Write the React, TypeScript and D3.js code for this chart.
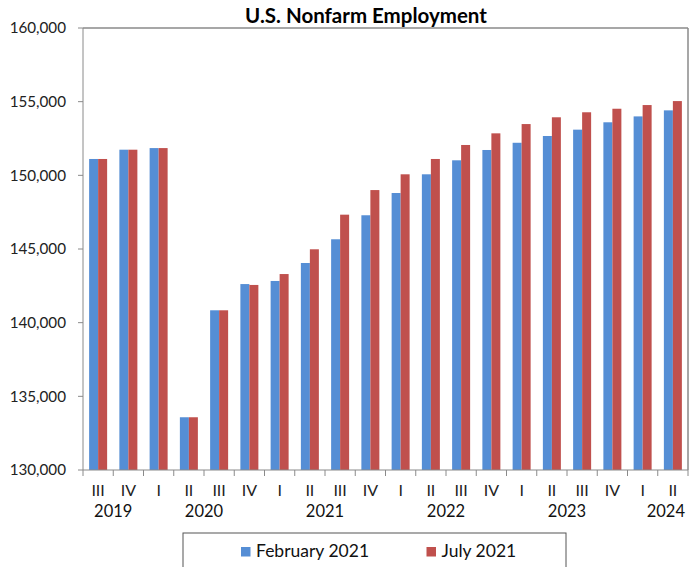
import React from "react";
import * as d3 from "d3";

// quarters along the x axis, years grouped underneath
const quarters = ["III", "IV", "I", "II", "III", "IV", "I", "II", "III", "IV", "I", "II", "III", "IV", "I", "II", "III", "IV", "I", "II"];
const yearLabels = ["2019", "2020", "2021", "2022", "2023", "2024"];
const quartersPerYear = [2, 4, 4, 4, 4, 2];

// thousands of jobs
const feb2021 = [151110, 151740, 151850, 133580, 140840, 142620, 142830, 144050, 145660, 147290, 148800, 150070, 151020, 151720, 152210, 152670, 153100, 153600, 154000, 154410];
const jul2021 = [151110, 151740, 151850, 133580, 140840, 142560, 143300, 144980, 147330, 149000, 150070, 151110, 152060, 152850, 153480, 153940, 154280, 154520, 154770, 155040];

const seriesNames = ["February 2021", "July 2021"];
const seriesColors = ["#558ED5", "#C0504D"];
const yTicks = [130000, 135000, 140000, 145000, 150000, 155000, 160000];

const App = () => {
  const width = 693;
  const height = 567;
  const margin = { top: 28, right: 5, bottom: 97, left: 83 };
  const font = "Lato, 'Open Sans', sans-serif";
  const axisColor = "#8a8a8a";

  const x = d3
    .scaleBand<number>()
    .domain(d3.range(quarters.length))
    .range([margin.left, width - margin.right])
    .padding(0);

  const y = d3
    .scaleLinear()
    .domain([130000, 160000])
    .range([height - margin.bottom, margin.top]);

  const bw = x.bandwidth();
  const xs = d3
    .scaleBand<number>()
    .domain([0, 1])
    .range([bw / 2 - 9, bw / 2 + 9]);

  const fmt = d3.format(",");
  const bottom = y(130000);
  const right = width - margin.right;

  // year label spans
  const starts = d3.cumsum([0, ...quartersPerYear]);
  const series = [feb2021, jul2021];

  return (
    <svg width={width} height={height} style={{ position: "absolute", left: 0, top: 0, background: "#fff" }}>
      <text x={366} y={23} textAnchor="middle" fontFamily={font} fontWeight="bold" fontSize={20.5} fill="#000">
        U.S. Nonfarm Employment
      </text>

      {/* plot frame */}
      <line x1={margin.left} x2={right} y1={margin.top} y2={margin.top} stroke={axisColor} strokeWidth={1.5} />
      <line x1={right} x2={right} y1={margin.top} y2={bottom} stroke={axisColor} strokeWidth={1.5} />

      {/* bars */}
      {series.map((vals, s) => (
        <g key={s} fill={seriesColors[s]}>
          {vals.map((v, i) => (
            <rect
              key={i}
              x={(x(i) ?? 0) + (xs(s) ?? 0)}
              y={y(v)}
              width={xs.bandwidth()}
              height={bottom - y(v)}
            />
          ))}
        </g>
      ))}

      {/* y axis */}
      <line x1={margin.left} x2={margin.left} y1={margin.top} y2={bottom} stroke={axisColor} />
      {yTicks.map((t) => (
        <g key={t}>
          <line x1={margin.left - 5} x2={margin.left} y1={y(t)} y2={y(t)} stroke={axisColor} />
          <text x={66} y={y(t)} dy="0.35em" textAnchor="end" fontFamily={font} fontSize={15.2} fill="#222">
            {fmt(t)}
          </text>
        </g>
      ))}

      {/* x axis */}
      <line x1={margin.left} x2={right} y1={bottom} y2={bottom} stroke={axisColor} />
      {d3.range(quarters.length + 1).map((i) => {
        const px = i < quarters.length ? x(i) ?? 0 : right;
        return <line key={i} x1={px} x2={px} y1={bottom} y2={bottom + 6} stroke={axisColor} />;
      })}
      {quarters.map((q, i) => (
        <text key={i} x={(x(i) ?? 0) + bw / 2} y={496} textAnchor="middle" fontFamily={font} fontSize={16} fill="#222">
          {q}
        </text>
      ))}
      {yearLabels.map((yr, k) => {
        const last = k === yearLabels.length - 1;
        const cx = ((x(starts[k]) ?? 0) + (x(starts[k + 1] - 1) ?? 0) + bw) / 2;
        return (
          <text
            key={yr}
            x={last ? right - 3 : cx}
            y={517}
            textAnchor={last ? "end" : "middle"}
            fontFamily={font}
            fontSize={16.5}
            fill="#111"
          >
            {yr}
          </text>
        );
      })}

      {/* legend */}
      <rect x={183} y={533} width={383} height={60} fill="#fff" stroke="#555" />
      {seriesNames.map((n, s) => (
        <g key={n} transform={`translate(${s === 0 ? 241 : 426.5},547)`}>
          <rect width={9.5} height={9.5} fill={seriesColors[s]} />
          <text x={15} y={10} fontFamily={font} fontSize={17.5} fill="#111">
            {n}
          </text>
        </g>
      ))}
    </svg>
  );
};

export default App;
